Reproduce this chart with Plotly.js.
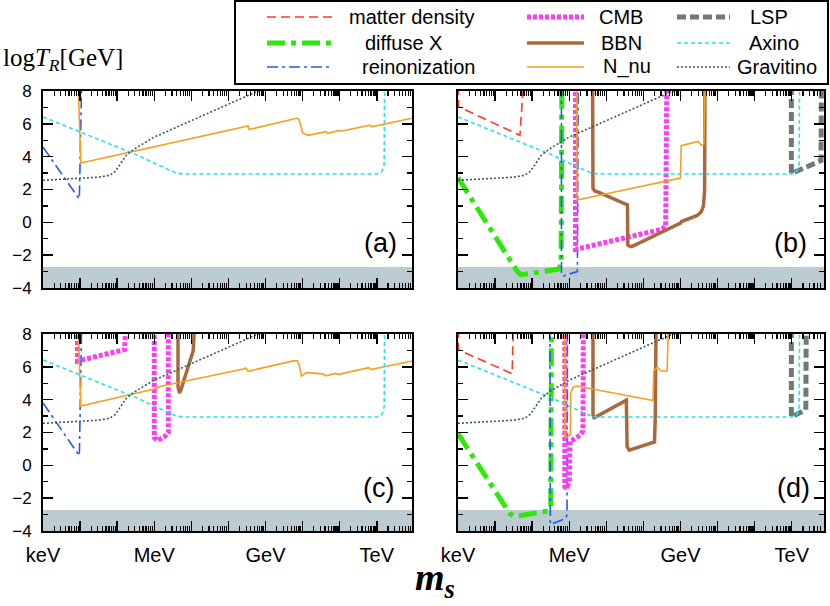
<!DOCTYPE html>
<html><head><meta charset="utf-8">
<script src="https://cdn.plot.ly/plotly-3.0.1.min.js"></script>
<style>html,body{margin:0;padding:0;background:#fff}#chart{width:830px;height:606px}</style>
</head><body><div id="chart"></div>
<script>
// ---------------- data ----------------
const seriesNames = ['matter density','diffuse X','reinonization','CMB','BBN','N_nu','LSP','Axino','Gravitino'];
const xLabelVals = [-6,-3,0,3];
const xLabelText = ['keV','MeV','GeV','TeV'];
const xDecadeVals = [-5,-4,-2,-1,1,2];
const yTickVals = [-4,-2,0,2,4,6,8];
const yMinorVals = [-3,-1,1,3,5,7];
const panelLabels = ['(a)','(b)','(c)','(d)'];
const bandTop = -2.72;

// shared curves (all panels)
const axinoX = [-6,-5,-4,-3.5,-3,-2.6,-2.4,-2.2,3.0,3.12,3.18,3.2,3.21];
const axinoY = [6.42,5.52,4.62,4.14,3.6,3.2,3.0,2.94,2.94,3.05,3.3,3.6,8.3];
const gravX = [-6,-5,-4.5,-4.2,-4.05,-3.9,-3.75,-3.55,-3.03,-0.2,0.0];
const gravY = [2.56,2.66,2.75,2.87,3.1,3.6,4.1,4.45,5.16,8.0,8.2];

// panel (a)
const reionA_x = [-6,-5.02,-4.96];
const reionA_y = [4.58,1.42,8.3];
const nnuA_x = [-5.05,-4.98,-0.47,-0.44,0.84,0.9,0.95,1.0,1.15,1.63,1.68,1.97,2.0,2.03,2.82,2.86,3.95];
const nnuA_y = [8.3,3.62,5.87,5.65,6.34,6.28,5.9,5.45,5.3,5.52,5.42,5.55,5.6,5.55,5.92,5.82,6.34];

// panel (b)
const matterB_x = [-5.99,-5.99,-4.33,-4.24];
const matterB_y = [8.3,7.05,5.3,8.3];
const diffuseB_x = [-6,-4.4,-4.3,-3.3,-3.22,-3.2];
const diffuseB_y = [2.72,-3.0,-3.2,-2.85,-2.6,8.3];
const reionB_x = [-3.21,-3.21,-3.17,-3.08,-2.78,-2.76];
const reionB_y = [8.3,-3.1,-3.3,-3.2,-3.0,8.3];
const cmbB_x = [-2.83,-2.83,-0.5,-0.4,-0.37];
const cmbB_y = [8.3,-1.65,-0.42,-0.25,8.3];
const bbnB_x = [-2.37,-2.36,-2.3,-2.2,-1.43,-1.42,-1.35,-1.27,0.0,0.03,0.45,0.56,0.62,0.65,0.66];
const bbnB_y = [8.3,2.05,1.9,1.83,1.06,-1.38,-1.48,-1.43,-0.05,0.05,0.42,0.65,1.0,2.0,8.3];
const nnuB_x = [-2.8,-2.79,0.0,0.02,0.48,0.55,0.63,0.66];
const nnuB_y = [8.3,1.36,2.7,4.67,4.93,4.7,4.75,8.3];
const lspB_x = [2.99,2.99,3.79,3.8];
const lspB_y = [8.3,2.97,3.76,8.3];

// panel (c)
const reionC_x = [-6,-5.02,-4.96];
const reionC_y = [3.8,0.58,8.3];
const cmbC1_x = [-5.07,-5.07,-4.98,-3.8,-3.77];
const cmbC1_y = [8.3,6.35,6.4,7.05,8.3];
const cmbC2_x = [-3.0,-3.0,-2.92,-2.72,-2.62,-2.62];
const cmbC2_y = [8.3,1.7,1.5,1.75,2.0,8.3];
const bbnC_x = [-2.36,-2.36,-2.32,-2.28,-1.95,-1.92];
const bbnC_y = [8.3,4.8,4.4,4.6,6.98,8.3];
const nnuC_x = [-5.05,-4.98,-2.94,-2.85,-0.6,-0.53,-0.47,0.75,0.86,0.92,0.97,1.1,1.55,1.62,1.9,1.95,2.78,2.84,3.95];
const nnuC_y = [8.3,3.62,4.68,4.8,5.87,5.93,5.73,6.36,6.36,6.0,5.44,5.65,5.57,5.45,5.6,5.53,5.95,5.83,6.36];

// panel (d)
const matterD_x = [-5.99,-5.99,-4.54,-4.51];
const matterD_y = [8.3,7.04,5.58,8.3];
const diffuseD_x = [-6,-4.6,-4.5,-4.35,-3.57,-3.5,-3.48];
const diffuseD_y = [1.93,-2.95,-3.08,-3.07,-2.78,-2.5,8.3];
const reionD_x = [-3.52,-3.51,-3.1,-3.06,-3.05];
const reionD_y = [8.3,-3.6,-3.25,-3.0,8.3];
const cmbD_x = [-3.12,-3.12,-3.05,-3.0,-2.98,-2.9,-2.7,-2.63,-2.62];
const cmbD_y = [8.3,-1.4,-1.3,-1.0,1.5,1.55,1.85,2.1,8.3];
const bbnD_x = [-2.36,-2.36,-2.33,-2.28,-1.46,-1.44,-1.38,-0.7,-0.68,-0.66];
const bbnD_y = [8.3,3.1,2.9,2.95,3.97,1.15,0.93,1.42,3.0,8.3];
const nnuD_x = [-3.12,-3.12,-3.05,-2.97,-2.96,-2.9,-2.8,-0.74,-0.72,-0.62,-0.52,-0.36,-0.33];
const nnuD_y = [8.3,1.75,1.7,1.9,4.4,4.75,4.83,3.94,5.75,5.98,5.75,5.75,8.3];
const lspD_x = [2.99,2.99,3.38,3.39];
const lspD_y = [8.3,2.95,3.38,8.3];

// ---------------- styles ----------------
const styles = {
  'matter density': {color:'#ff3a22', width:1.6, dash:'9px,5px'},
  'diffuse X':      {color:'#2ee80c', width:5,   dash:'18px,6px,5px,6px'},
  'reinonization':  {color:'#1f5cf2', width:1.6, dash:'11px,4px,3px,4px'},
  'CMB':            {color:'#ff3cf5', width:5,   dash:'4px,2px'},
  'BBN':            {color:'#a8693f', width:3.5, dash:'solid'},
  'N_nu':           {color:'#f6a01c', width:1.6, dash:'solid'},
  'LSP':            {color:'#6f7a73', width:5,   dash:'9px,4px'},
  'Axino':          {color:'#25e2f0', width:1.6, dash:'4px,3px'},
  'Gravitino':      {color:'#3b5959', width:1.6, dash:'2px,2px'}
};

const W = 830, H = 606;
const PX = v => v / W;
const PY = v => 1 - v / H;

const traces = [];
function curve(panel, name, xs, ys) {
  const s = styles[name];
  const suf = panel === 1 ? '' : String(panel);
  traces.push({type:'scatter', mode:'lines', x:xs, y:ys, name:name, showlegend:false,
    xaxis:'x'+suf, yaxis:'y'+suf, hoverinfo:'skip',
    line:{color:s.color, width:s.width, dash:s.dash}});
}

// panel a
curve(1,'reinonization',reionA_x,reionA_y);
curve(1,'N_nu',nnuA_x,nnuA_y);
curve(1,'Axino',axinoX,axinoY);
curve(1,'Gravitino',gravX,gravY);
// panel b
curve(2,'matter density',matterB_x,matterB_y);
curve(2,'diffuse X',diffuseB_x,diffuseB_y);
curve(2,'reinonization',reionB_x,reionB_y);
curve(2,'CMB',cmbB_x,cmbB_y);
curve(2,'BBN',bbnB_x,bbnB_y);
curve(2,'N_nu',nnuB_x,nnuB_y);
curve(2,'LSP',lspB_x,lspB_y);
curve(2,'Axino',axinoX,axinoY);
curve(2,'Gravitino',gravX,gravY);
// panel c
curve(3,'reinonization',reionC_x,reionC_y);
curve(3,'CMB',cmbC1_x,cmbC1_y);
curve(3,'CMB',cmbC2_x,cmbC2_y);
curve(3,'BBN',bbnC_x,bbnC_y);
curve(3,'N_nu',nnuC_x,nnuC_y);
curve(3,'Axino',axinoX,axinoY);
curve(3,'Gravitino',gravX,gravY);
// panel d
curve(4,'matter density',matterD_x,matterD_y);
curve(4,'diffuse X',diffuseD_x,diffuseD_y);
curve(4,'reinonization',reionD_x,reionD_y);
curve(4,'CMB',cmbD_x,cmbD_y);
curve(4,'BBN',bbnD_x,bbnD_y);
curve(4,'N_nu',nnuD_x,nnuD_y);
curve(4,'LSP',lspD_x,lspD_y);
curve(4,'Axino',axinoX,axinoY);
curve(4,'Gravitino',gravX,gravY);

// minor log ticks
const minorX = [];
for (let d = -6; d < 4; d++) for (let k = 2; k <= 9; k++) minorX.push(d + Math.log10(k));

const tickFont = {family:'Liberation Sans, Arial, sans-serif', size:20, color:'#000'};
function xAxis(domain, range, showLabels) {
  return {domain:domain, range:range, tickmode:'array', tickvals:xLabelVals, ticktext:xLabelText,
    showticklabels:showLabels, ticks:'inside', ticklen:10, tickwidth:1.5, tickcolor:'#000',
    showline:true, linewidth:2, linecolor:'#000', mirror:'ticks', showgrid:false, zeroline:false,
    minor:{tickmode:'array', tickvals:minorX, ticks:'inside', ticklen:5, tickwidth:1.2, tickcolor:'#000', showgrid:false},
    tickfont:tickFont, ticklabelstandoff:5, fixedrange:true};
}
// extra overlay axis that carries the unlabelled decade ticks
function xDecadeAxis(domain, range, over, anchor) {
  return {domain:domain, range:range, overlaying:over, anchor:anchor, tickmode:'array', tickvals:xDecadeVals,
    showticklabels:false, ticks:'inside', ticklen:10, tickwidth:1.5, tickcolor:'#000',
    showline:false, mirror:'ticks', showgrid:false, zeroline:false, fixedrange:true};
}
function yAxis(domain, showLabels) {
  return {domain:domain, range:[-4,8], tickmode:'array', tickvals:yTickVals,
    showticklabels:showLabels, ticks:'inside', ticklen:10, tickwidth:1.5, tickcolor:'#000',
    showline:true, linewidth:2, linecolor:'#000', mirror:'ticks', showgrid:false, zeroline:false,
    minor:{tickmode:'array', tickvals:yMinorVals, ticks:'inside', ticklen:5, tickwidth:1.2, tickcolor:'#000', showgrid:false},
    tickfont:{family:'Liberation Sans, Arial, sans-serif', size:17, color:'#000'}, ticklabelstandoff:6, fixedrange:true};
}
const dxL = [PX(43), PX(412)], dxR = [PX(458), PX(824)];
const dyT = [PY(288), PY(91)], dyB = [PY(531), PY(334)];

const shapes = [];
const annotations = [];
['', '2', '3', '4'].forEach((s) => {
  shapes.push({type:'rect', xref:'x'+s+' domain', yref:'y'+s, x0:0, x1:1, y0:-4, y1:bandTop,
    fillcolor:'#bccbd1', line:{width:0}, layer:'below'});
});
// panel labels
const labelPos = [[380,243],[790,243],[378,488],[793,488]];
panelLabels.forEach((t, i) => {
  annotations.push({text:t, xref:'paper', yref:'paper', x:PX(labelPos[i][0]), y:PY(labelPos[i][1]),
    xanchor:'center', yanchor:'middle', showarrow:false,
    font:{family:'Liberation Sans, Arial, sans-serif', size:27, color:'#000'}});
});
// axis titles
annotations.push({text:'log<i>T</i><sub><i>R</i></sub>[GeV]', xref:'paper', yref:'paper', x:PX(1), y:PY(60),
  xanchor:'left', yanchor:'middle', showarrow:false, font:{family:'Liberation Serif, Times New Roman, serif', size:25, color:'#000'}});
annotations.push({text:'<b><i>m</i></b><sub><b><i>s</i></b></sub>', xref:'paper', yref:'paper', x:PX(413), y:PY(580),
  xanchor:'left', yanchor:'middle', showarrow:false, font:{family:'Liberation Serif, Times New Roman, serif', size:38, color:'#000'}});

// manual legend
shapes.push({type:'rect', xref:'paper', yref:'paper', x0:PX(235), x1:PX(828), y0:PY(84), y1:PY(1),
  line:{color:'#000', width:2}, fillcolor:'rgba(0,0,0,0)'});
const legRowY = [17, 43, 67];
const legSample = [[267,333],[527,584],[677,730]];
const legText = [[347,363,360],[597,599,601],[748,747,735]];
seriesNames.forEach((name, i) => {
  const col = Math.floor(i / 3), row = i % 3;
  const s = styles[name];
  shapes.push({type:'line', xref:'paper', yref:'paper', x0:PX(legSample[col][0]), x1:PX(legSample[col][1]),
    y0:PY(legRowY[row]), y1:PY(legRowY[row]), line:{color:s.color, width:s.width, dash:s.dash}});
  annotations.push({text:name, xref:'paper', yref:'paper', x:PX(legText[col][row]), y:PY(legRowY[row]),
    xanchor:'left', yanchor:'middle', showarrow:false,
    font:{family:'Liberation Sans, Arial, sans-serif', size:20, color:'#000'}});
});

const layout = {
  width:W, height:H, margin:{l:0,r:0,t:0,b:0}, paper_bgcolor:'#fff', plot_bgcolor:'rgba(0,0,0,0)',
  showlegend:false,
  xaxis: xAxis(dxL, [-6,3.95], false), yaxis: yAxis(dyT, true),
  xaxis2: xAxis(dxR, [-6,3.87], false), yaxis2: yAxis(dyT, false),
  xaxis3: xAxis(dxL, [-6,3.95], true), yaxis3: yAxis(dyB, true),
  xaxis4: xAxis(dxR, [-6,3.87], true), yaxis4: yAxis(dyB, false),
  xaxis5: xDecadeAxis(dxL, [-6,3.95], 'x', 'y'),
  xaxis6: xDecadeAxis(dxR, [-6,3.87], 'x2', 'y2'),
  xaxis7: xDecadeAxis(dxL, [-6,3.95], 'x3', 'y3'),
  xaxis8: xDecadeAxis(dxR, [-6,3.87], 'x4', 'y4'),
  shapes:shapes, annotations:annotations
};
layout.xaxis.anchor='y'; layout.yaxis.anchor='x';
layout.xaxis2.anchor='y2'; layout.yaxis2.anchor='x2';
layout.xaxis3.anchor='y3'; layout.yaxis3.anchor='x3';
layout.xaxis4.anchor='y4'; layout.yaxis4.anchor='x4';

// invisible carrier traces so the overlay decade-tick axes are drawn
[['x5','y'],['x6','y2'],['x7','y3'],['x8','y4']].forEach(p => {
  traces.push({type:'scatter', mode:'lines', x:[-6], y:[-4], xaxis:p[0], yaxis:p[1], showlegend:false,
    hoverinfo:'skip', line:{width:0}, opacity:0});
});

Plotly.newPlot('chart', traces, layout, {displayModeBar:false, staticPlot:true});
</script></body></html>
